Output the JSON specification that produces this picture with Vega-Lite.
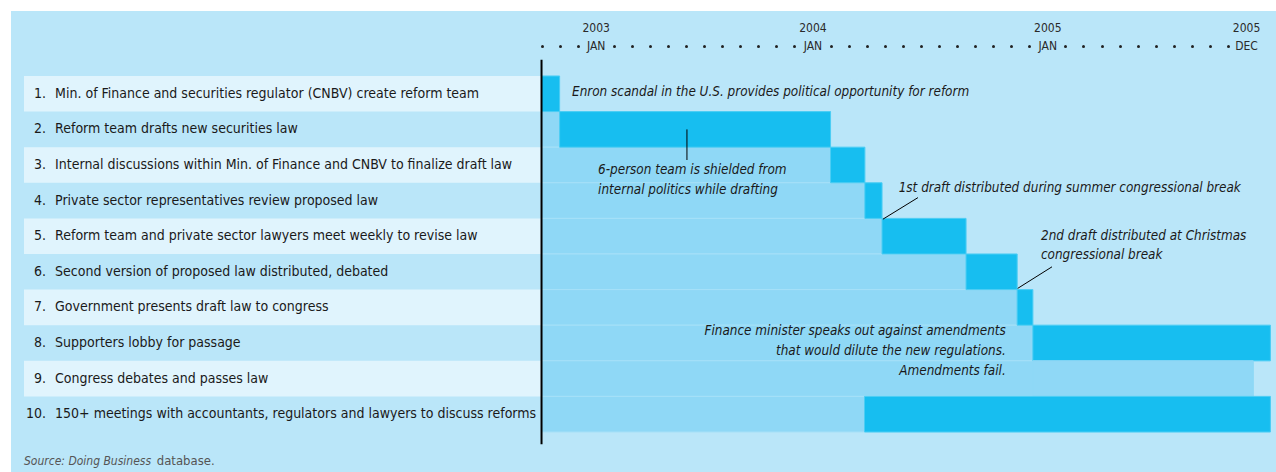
{
  "$schema": "https://vega.github.io/schema/vega-lite/v6.json",
  "width": 1265,
  "height": 461,
  "autosize": {"type": "none"},
  "padding": {"left": 11, "top": 11, "right": 0, "bottom": 0},
  "background": "#ffffff",
  "config": {
    "view": {"fill": "#bae6f9", "stroke": null},
    "font": "Liberation Sans Narrow, DejaVu Sans Condensed, sans-serif"
  },
  "data": {
    "values": [
      {"step": 1, "task": "Min. of Finance and securities regulator (CNBV) create reform team", "start": 0, "end": 1, "actor": "Reform coalition"},
      {"step": 2, "task": "Reform team drafts new securities law", "start": 1, "end": 16, "actor": "Reform coalition"},
      {"step": 3, "task": "Internal discussions within Min. of Finance and CNBV to finalize draft law", "start": 16, "end": 17.9, "actor": "Reform coalition"},
      {"step": 4, "task": "Private sector representatives review proposed law", "start": 17.9, "end": 18.85, "actor": "Reform coalition"},
      {"step": 5, "task": "Reform team and private sector lawyers meet weekly to revise law", "start": 18.85, "end": 23.5, "actor": "Reform coalition"},
      {"step": 6, "task": "Second version of proposed law distributed, debated", "start": 23.5, "end": 26.33, "actor": "Reform coalition"},
      {"step": 7, "task": "Government presents draft law to congress", "start": 26.33, "end": 27.2, "actor": "Reform coalition"},
      {"step": 8, "task": "Supporters lobby for passage", "start": 27.2, "end": 40.35, "actor": "Reform coalition"},
      {"step": 9, "task": "Congress debates and passes law", "start": 27.2, "end": 39.4, "actor": "Congress"},
      {"step": 10, "task": "150+ meetings with accountants, regulators and lawyers to discuss reforms", "start": 17.88, "end": 40.35, "actor": "Reform coalition"}
    ]
  },
  "layer": [
    {
      "transform": [{"filter": "datum.step % 2 == 1"}],
      "mark": {"type": "bar", "color": "#e0f4fd"},
      "encoding": {
        "x": {"datum": -28.65, "type": "quantitative"},
        "y": {"field": "step", "type": "ordinal"}
      }
    },
    {
      "mark": {"type": "bar", "color": "#8fd8f6", "stroke": "#a6e0f8", "strokeWidth": 1},
      "encoding": {
        "x": {"field": "end", "type": "quantitative"},
        "y": {"field": "step", "type": "ordinal"}
      }
    },
    {
      "mark": {"type": "bar", "strokeWidth": 1},
      "encoding": {
        "x": {
          "field": "start",
          "type": "quantitative",
          "scale": {"domain": [-29.37, 40.66], "nice": false, "zero": false},
          "axis": {
            "orient": "top",
            "values": [0,1,2,3,4,5,6,7,8,9,10,11,12,13,14,15,16,17,18,19,20,21,22,23,24,25,26,27,28,29,30,31,32,33,34,35,36,37,38,39],
            "tickCount": 100,
            "labelExpr": "datum.value == 3 ? ['2003','JAN'] : datum.value == 15 ? ['2004','JAN'] : datum.value == 28 ? ['2005','JAN'] : datum.value == 39 ? ['2005','DEC'] : ''",
            "ticks": true,
            "tickSize": 0.1,
            "tickWidth": 3,
            "tickCap": "round",
            "tickColor": "#222222",
            "tickOpacity": {"condition": {"test": "datum.value == 3 || datum.value == 15 || datum.value == 28 || datum.value == 39", "value": 0}, "value": 1},
            "domain": false,
            "grid": false,
            "labelPadding": 11,
            "offset": -35,
            "title": null,
            "labelFontSize": 12,
            "labelColor": "#2a2a2a",
            "labelLineHeight": 18,
            "labelFlush": false,
            "labelOverlap": false,
            "labelBound": false,
            "zindex": 1
          }
        },
        "x2": {"field": "end"},
        "y": {
          "field": "step",
          "type": "ordinal",
          "scale": {"type": "band", "paddingInner": 0, "paddingOuter": 0, "range": [65, 421]},
          "axis": {
            "orient": "left",
            "offset": -34.5,
            "labelAlign": "right",
            "labelBaseline": "middle",
            "labelPadding": 0,
            "ticks": false,
            "tickSize": 0,
            "domain": false,
            "grid": false,
            "title": null,
            "labelExpr": "datum.label + '.'",
            "labelFontSize": 14,
            "labelColor": "#1a1a1a",
            "zindex": 1
          }
        },
        "color": {
          "field": "actor",
          "type": "nominal",
          "scale": {"domain": ["Reform coalition", "Congress"], "range": ["#17bef0", "#8fd8f6"]},
          "legend": null
        },
        "stroke": {
          "field": "actor",
          "type": "nominal",
          "scale": {"domain": ["Reform coalition", "Congress"], "range": ["#4ccdf4", "#8fd8f6"]},
          "legend": null
        }
      }
    },
    {
      "mark": {"type": "text", "align": "left", "baseline": "middle", "fontSize": 14, "color": "#1a1a1a"},
      "encoding": {
        "x": {"datum": -26.93, "type": "quantitative"},
        "y": {"field": "step", "type": "ordinal"},
        "text": {"field": "task"}
      }
    },
    {
      "data": {"values": [{"line": "time axis"}]},
      "mark": {"type": "rule", "color": "#000000", "strokeWidth": 2, "yOffset": -34, "y2Offset": 30},
      "encoding": {
        "x": {"datum": 0, "type": "quantitative"},
        "y": {"datum": 1, "type": "ordinal"},
        "y2": {"datum": 10}
      }
    },
    {
      "data": {"values": [{"note": "Enron scandal in the U.S. provides political opportunity for reform"}]},
      "mark": {"type": "text", "align": "left", "baseline": "middle", "fontSize": 13.4, "fontStyle": "italic", "color": "#1a1a1a", "dy": -2},
      "encoding": {
        "x": {"datum": 1.69, "type": "quantitative"},
        "y": {"datum": 1, "type": "ordinal"},
        "text": {"field": "note"}
      }
    },
    {
      "data": {"values": [{"note": ["6-person team is shielded from", "internal politics while drafting"]}]},
      "mark": {"type": "text", "align": "left", "baseline": "middle", "fontSize": 13.4, "fontStyle": "italic", "color": "#1a1a1a", "lineHeight": 20, "dy": 5},
      "encoding": {
        "x": {"datum": 3.13, "type": "quantitative"},
        "y": {"datum": 3, "type": "ordinal"},
        "text": {"field": "note"}
      }
    },
    {
      "data": {"values": [{"note": "leader"}]},
      "mark": {"type": "rule", "color": "#000000", "strokeWidth": 1, "y2Offset": -5},
      "encoding": {
        "x": {"datum": 8.05, "type": "quantitative"},
        "y": {"datum": 2, "type": "ordinal"},
        "y2": {"datum": 3}
      }
    },
    {
      "data": {"values": [{"note": "1st draft distributed during summer congressional break"}]},
      "mark": {"type": "text", "align": "left", "baseline": "middle", "fontSize": 13.4, "fontStyle": "italic", "color": "#1a1a1a", "dy": -13},
      "encoding": {
        "x": {"datum": 19.77, "type": "quantitative"},
        "y": {"datum": 4, "type": "ordinal"},
        "text": {"field": "note"}
      }
    },
    {
      "data": {"values": [{"note": "leader"}]},
      "mark": {"type": "rule", "color": "#000000", "strokeWidth": 1, "yOffset": -3, "y2Offset": -17},
      "encoding": {
        "x": {"datum": 20.84, "type": "quantitative"},
        "x2": {"datum": 18.9},
        "y": {"datum": 4, "type": "ordinal"},
        "y2": {"datum": 5}
      }
    },
    {
      "data": {"values": [{"note": ["2nd draft distributed at Christmas", "congressional break"]}]},
      "mark": {"type": "text", "align": "left", "baseline": "middle", "fontSize": 13.4, "fontStyle": "italic", "color": "#1a1a1a", "lineHeight": 19, "dy": 0},
      "encoding": {
        "x": {"datum": 27.65, "type": "quantitative"},
        "y": {"datum": 5, "type": "ordinal"},
        "text": {"field": "note"}
      }
    },
    {
      "data": {"values": [{"note": "leader"}]},
      "mark": {"type": "rule", "color": "#000000", "strokeWidth": 1, "yOffset": -5, "y2Offset": -19},
      "encoding": {
        "x": {"datum": 28.26, "type": "quantitative"},
        "x2": {"datum": 26.36},
        "y": {"datum": 6, "type": "ordinal"},
        "y2": {"datum": 7}
      }
    },
    {
      "data": {"values": [{"note": ["Finance minister speaks out against amendments", "that would dilute the new regulations.", "Amendments fail."]}]},
      "mark": {"type": "text", "align": "right", "baseline": "middle", "fontSize": 13.4, "fontStyle": "italic", "color": "#1a1a1a", "lineHeight": 20, "dy": -12.5},
      "encoding": {
        "x": {"datum": 25.7, "type": "quantitative"},
        "y": {"datum": 8, "type": "ordinal"},
        "text": {"field": "note"}
      }
    },
    {
      "data": {"values": [{"note": "Source: Doing Business"}]},
      "mark": {"type": "text", "align": "left", "baseline": "middle", "fontSize": 12, "fontStyle": "italic", "color": "#555555", "dy": 47},
      "encoding": {
        "x": {"datum": -28.65, "type": "quantitative"},
        "y": {"datum": 10, "type": "ordinal"},
        "text": {"field": "note"}
      }
    },
    {
      "data": {"values": [{"note": "database."}]},
      "mark": {"type": "text", "align": "left", "baseline": "middle", "fontSize": 13, "color": "#555555", "dy": 47},
      "encoding": {
        "x": {"datum": -21.3, "type": "quantitative"},
        "y": {"datum": 10, "type": "ordinal"},
        "text": {"field": "note"}
      }
    }
  ]
}
